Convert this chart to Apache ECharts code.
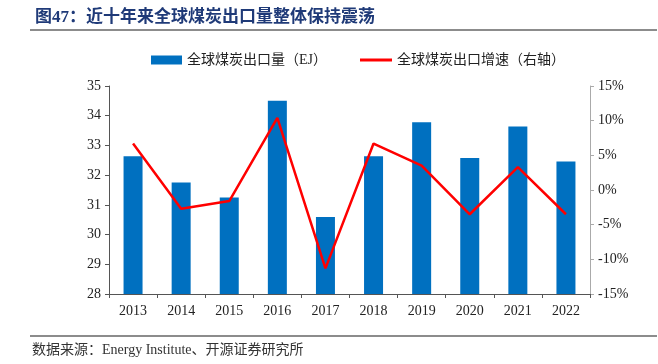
<!DOCTYPE html>
<html><head><meta charset="utf-8">
<script src="https://cdn.jsdelivr.net/npm/echarts@6/dist/echarts.min.js"></script>
<style>html,body{margin:0;padding:0;background:#fff}#c{width:658px;height:364px}</style>
</head><body><div id="c"></div>
<script>
var categories = ['2013','2014','2015','2016','2017','2018','2019','2020','2021','2022'];
var exportVolume = [32.64, 31.75, 31.25, 34.5, 30.59, 32.64, 33.78, 32.58, 33.64, 32.46];
var growthRate = [6.7, -2.7, -1.6, 10.4, -11.3, 6.7, 3.5, -3.5, 3.3, -3.5];
var leftTicks = [28, 35, 1];
var rightTicks = [-15, 15, 5];
var titleText = '图47：近十年来全球煤炭出口量整体保持震荡';
var sourceText = '数据来源：Energy Institute、开源证券研究所';

var serif = '"Liberation Serif","Noto Sans CJK SC",serif';
var chart = echarts.init(document.getElementById('c'));
chart.setOption({
  animation: false,
  title: {
    text: titleText, left: 30, top: 4,
    textStyle: {fontSize: 17, fontWeight: 'bold', color: '#1f3a78', fontFamily: serif}
  },
  graphic: [
    {type: 'line', shape: {x1: 30, y1: 30, x2: 657, y2: 30}, style: {stroke: '#8c8c8c', lineWidth: 2}},
    {type: 'line', shape: {x1: 30, y1: 336, x2: 657, y2: 336}, style: {stroke: '#8c8c8c', lineWidth: 2}},
    {type: 'text', left: 32, top: 343, style: {text: sourceText, fontSize: 14, fill: '#333', fontFamily: serif}}
  ],
  legend: [
    {top: 48, left: 146, itemWidth: 31, itemHeight: 9,
     textStyle: {fontSize: 14, color: '#222', fontFamily: serif},
     data: [{name: '全球煤炭出口量（EJ）', icon: 'rect'}]},
    {top: 48, left: 355, itemWidth: 32, itemHeight: 3,
     textStyle: {fontSize: 14, color: '#222', fontFamily: serif},
     data: [{name: '全球煤炭出口增速（右轴）', icon: 'rect'}]}
  ],
  grid: {left: 109, right: 68, top: 86, bottom: 70},
  xAxis: {
    type: 'category', data: categories,
    axisLine: {onZero: false, lineStyle: {color: '#555'}},
    axisTick: {show: true, length: 4, lineStyle: {color: '#555'}},
    axisLabel: {fontSize: 14, color: '#222', fontFamily: serif, margin: 10}
  },
  yAxis: [
    {type: 'value', min: leftTicks[0], max: leftTicks[1], interval: leftTicks[2],
     splitLine: {show: false},
     axisLine: {show: true, lineStyle: {color: '#555'}},
     axisTick: {show: true, length: 4, lineStyle: {color: '#555'}},
     axisLabel: {fontSize: 14, color: '#222', fontFamily: serif, margin: 8}},
    {type: 'value', min: rightTicks[0], max: rightTicks[1], interval: rightTicks[2],
     splitLine: {show: false},
     axisLine: {show: true, lineStyle: {color: '#aaa'}},
     axisTick: {show: true, length: 4, lineStyle: {color: '#aaa'}},
     axisLabel: {fontSize: 14, color: '#222', fontFamily: serif, margin: 8, formatter: '{value}%'}}
  ],
  series: [
    {name: '全球煤炭出口量（EJ）', type: 'bar', data: exportVolume, barWidth: 19,
     itemStyle: {color: '#0070c0'}},
    {name: '全球煤炭出口增速（右轴）', type: 'line', yAxisIndex: 1, data: growthRate,
     symbol: 'none', lineStyle: {color: '#ff0000', width: 2.5}, itemStyle: {color: '#ff0000'}}
  ]
});
</script></body></html>
